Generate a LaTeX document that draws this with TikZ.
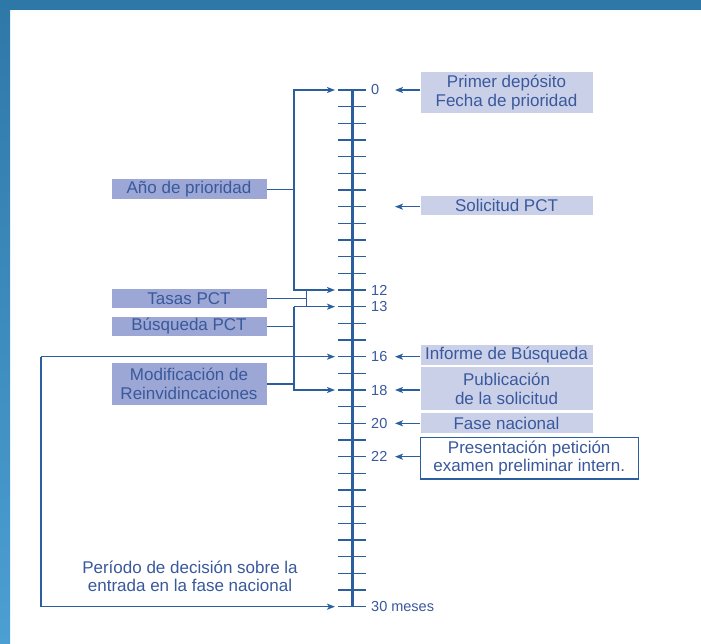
\documentclass[tikz,border=0pt]{standalone}
\usepackage{fontspec}
\setmainfont{Liberation Sans}
\usetikzlibrary{arrows.meta}
\definecolor{marco}{HTML}{2E78A8}
\definecolor{marcoclaro}{HTML}{4C9FD2}
\definecolor{azullinea}{HTML}{2B5E9E}
\definecolor{azultexto}{HTML}{39599C}
\definecolor{cajaosc}{HTML}{9CA7D5}
\definecolor{cajaclara}{HTML}{CBD0E9}
\tikzset{
  flecha/.style={draw=azullinea, line width=1.4pt, -{Stealth[length=8pt, width=6pt, inset=2pt]}},
  conector/.style={draw=azullinea, line width=1.4pt},
  caja/.style={text=azultexto, align=center, inner sep=0pt, font=\fontsize{17}{18.5}\selectfont},
  cajaizq/.style={caja, fill=cajaosc, minimum width=155pt},
  cajadcha/.style={caja, fill=cajaclara, minimum width=172pt},
  num/.style={anchor=west, inner sep=0pt, text=azultexto, font=\fontsize{14.5}{16}\selectfont}
}
\begin{document}
\begin{tikzpicture}[x=1pt, y=-1pt]
    \useasboundingbox (0,0) rectangle (701,643);
    % Marco
    \fill[white] (0,0) rectangle (701,643);
    \fill[marco] (0,0) rectangle (701,10);
    \shade[top color=marco, bottom color=marcoclaro] (0,0) rectangle (10,643);

    % Eje de meses
    \foreach \i in {0,...,31} {
        \coordinate (t\i) at (352, {90+16.667*\i});
        \coordinate (l\i) at (335, {90+16.667*\i});
        \coordinate (d\i) at (395, {90+16.667*\i});
        \draw[azullinea, line width=1.5pt] ([xshift=-14pt]t\i) -- ([xshift=14pt]t\i);
    }
    \draw[azullinea, line width=3pt] (t0) -- (t31);
    \foreach \i/\txt in {0/0, 12/12, 13/13, 16/16, 18/18, 20/20, 22/22, 31/30 meses}
        \node[num] (n\i) at (371, {90+16.667*\i}) {\txt};

    % Cajas de la izquierda
    \node[cajaizq, minimum height=19.5pt] (ap) at (189, 189.2) {Año de prioridad};
    \node[cajaizq, minimum height=19.5pt] (tp) at (189, 298.7) {Tasas PCT};
    \node[cajaizq, minimum height=19.5pt] (bp) at (189, 326.3) {Búsqueda PCT};
    \node[cajaizq, minimum height=42.5pt] (mr) at (189, 383.8) {Modificación de\\Reinvidincaciones};
    \node[caja] (pdec) at (190, 576.5) {Período de decisión sobre la\\entrada en la fase nacional};

    % Cajas de la derecha
    \node[cajadcha, minimum height=41.6pt] (pd) at (506.5, 92.5) {Primer depósito\\Fecha de prioridad};
    \node[cajadcha, minimum height=19.3pt] (sp) at (506.5, 205.3) {Solicitud PCT};
    \node[cajadcha, minimum height=20pt] (ib) at (506.5, 355) {Informe de Búsqueda};
    \node[cajadcha, minimum height=42.5pt] (ps) at (506.5, 388.7) {Publicación\\de la solicitud};
    \node[cajadcha, minimum height=19.4pt] (fn) at (506.5, 423) {Fase nacional};
    \node[caja, draw=azullinea, line width=1.2pt, fill=white, minimum width=218pt, minimum height=41.7pt] (pe) at (529.2, 458.2) {Presentación petición\\examen preliminar intern.};

    % Flechas de la derecha
    \draw[flecha] (pd.west |- d0) -- (d0);
    \draw[flecha] (sp.west |- d7) -- (d7);
    \draw[flecha] (ib.west |- d16) -- (d16);
    \draw[flecha] (ps.west |- d18) -- (d18);
    \draw[flecha] (fn.west |- d20) -- (d20);
    \draw[flecha] (pe.west |- d22) -- (d22);

    % Flechas de la izquierda
    \coordinate (bus) at (294, 0);
    \coordinate (bus2) at (306.7, 0);
    \coordinate (busizq) at (41, 0);
    \draw[conector] (ap.east) -- (ap.east -| bus);
    \draw[flecha] (ap.east -| bus) |- (l0);
    \draw[flecha] (ap.east -| bus) |- (l12);
    \draw[conector] (tp.east) -- (tp.east -| bus2);
    \draw[conector] (bus2 |- l12) -- (bus2 |- l13);
    \draw[conector] (bp.east) -- (bp.east -| bus);
    \draw[conector] (mr.east) -- (mr.east -| bus);
    \draw[flecha] (bus |- l13) -- (l13);
    \draw[flecha] (bus |- l13) -- (bus |- l18) -- (l18);
    \draw[flecha] (busizq |- l16) -- (l16);
    \draw[flecha] (busizq |- l16) |- (l31);
\end{tikzpicture}
\end{document}
